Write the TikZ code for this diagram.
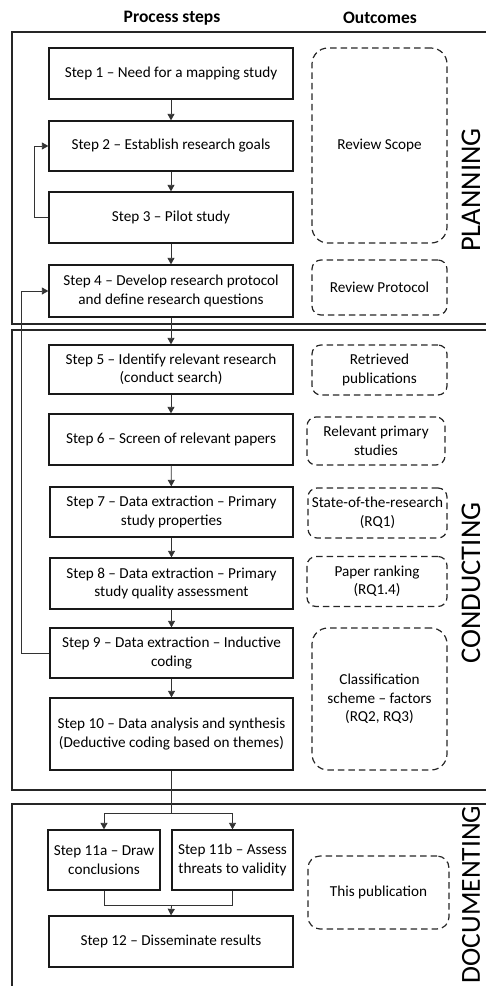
\documentclass[tikz,border=0pt]{standalone}
\usepackage{fontspec}
\setmainfont{Carlito}
\usetikzlibrary{arrows.meta}
\begin{document}
\begin{tikzpicture}[x=1pt,y=-1pt,
  frame/.style={draw=black!85, line width=1.4pt},
  stepbox/.style={draw=black!90, line width=1.3pt, align=center, inner sep=1pt,
    font=\fontsize{15.2}{18.5}\selectfont},
  outbox/.style={draw=black!85, line width=1.2pt, dash pattern=on 6.5pt off 4pt,
    rounded corners=9pt, align=center, inner sep=0pt,
    font=\fontsize{15.2}{18.5}\selectfont},
  conn/.style={draw=black!80, line width=0.8pt},
  arr/.style={conn, -{Triangle[length=6.5pt,width=7pt]}},
  phase/.style={rotate=90, inner sep=0pt, font=\fontsize{28.5}{32}\selectfont},
  head/.style={font=\bfseries\fontsize{17.5}{20}\selectfont}]

\useasboundingbox (0,0) rectangle (486,986);

% column headings
\node[head] (hproc) at (172,18) {Process steps};
\node[head] (hout) at (380,18) {Outcomes};

% phase frames (open to the right and below)
\draw[frame] (486,32) -- (12,32) -- (12,324) -- (486,324);
\draw[frame] (486,330) -- (12,330) -- (12,790) -- (486,790);
\draw[frame] (486,804) -- (12,804) -- (12,986);

\node[phase] (lplan) at (471,190) {PLANNING};
\node[phase] (lcond) at (471,583) {CONDUCTING};
\node[phase, font=\fontsize{27.5}{31}\selectfont] (ldoc) at (471,894.5) {DOCUMENTING};

% process steps
\node[stepbox, minimum width=244pt, minimum height=51pt] (s1) at (171,73.5) {Step 1 -- Need for a mapping study};
\node[stepbox, minimum width=244pt, minimum height=50pt] (s2) at (171,146) {Step 2 -- Establish research goals};
\node[stepbox, minimum width=244pt, minimum height=51pt] (s3) at (171,217.5) {Step 3 -- Pilot study};
\node[stepbox, minimum width=244pt, minimum height=52pt] (s4) at (171,291) {Step 4 -- Develop research protocol\\and define research questions};
\node[stepbox, minimum width=244pt, minimum height=49pt] (s5) at (171,369.5) {Step 5 -- Identify relevant research\\(conduct search)};
\node[stepbox, minimum width=244pt, minimum height=51pt] (s6) at (171,439.5) {Step 6 -- Screen of relevant papers};
\node[stepbox, minimum width=243pt, minimum height=50pt] (s7) at (171.5,512) {Step 7 -- Data extraction -- Primary\\study properties};
\node[stepbox, minimum width=243pt, minimum height=51pt] (s8) at (171.5,583.5) {Step 8 -- Data extraction -- Primary\\study quality assessment};
\node[stepbox, minimum width=243pt, minimum height=50pt] (s9) at (171.5,653) {Step 9 -- Data extraction -- Inductive\\coding};
\node[stepbox, minimum width=243pt, minimum height=72pt] (s10) at (171.5,734) {Step 10 -- Data analysis and synthesis\\(Deductive coding based on themes)};
\node[stepbox, minimum width=112pt, minimum height=60pt] (s11a) at (104,860) {Step 11a -- Draw\\conclusions};
\node[stepbox, minimum width=121pt, minimum height=60pt] (s11b) at (232.5,860) {Step 11b -- Assess\\threats to validity};
\node[stepbox, minimum width=244pt, minimum height=51pt] (s12) at (171,941.5) {Step 12 -- Disseminate results};

% outcomes
\node[outbox, rounded corners=16pt, minimum width=135pt, minimum height=195pt] (o1) at (379.5,145.5) {Review Scope};
\node[outbox, minimum width=135pt, minimum height=55pt] (o2) at (379.5,287.5) {Review Protocol};
\node[outbox, minimum width=135pt, minimum height=50pt] (o3) at (379.5,370) {Retrieved\\publications};
\node[outbox, minimum width=138pt, minimum height=48pt] (o4) at (376,441) {Relevant primary\\studies};
\node[outbox, minimum width=139pt, minimum height=50pt] (o5) at (377.5,513) {State-of-the-research\\(RQ1)};
\node[outbox, minimum width=140pt, minimum height=50pt] (o6) at (377,581.5) {Paper ranking\\(RQ1.4)};
\node[outbox, rounded corners=16pt, minimum width=135pt, minimum height=142pt] (o7) at (379.5,699) {Classification\\scheme -- factors\\(RQ2, RQ3)};
\node[outbox, rounded corners=12pt, minimum width=141pt, minimum height=73pt] (o8) at (378.5,892.5) {This publication};

% sequential flow
\draw[arr] (s1) -- (s2);
\draw[arr] (s2) -- (s3);
\draw[arr] (s3) -- (s4);
\draw[arr] (s4) -- (s5);
\draw[arr] (s5) -- (s6);
\draw[arr] (s6) -- (s7);
\draw[arr] (s7) -- (s8);
\draw[arr] (s8) -- (s9);
\draw[arr] (s9) -- (s10);

% feedback loops
\draw[arr] (s3.west) -- ++(-14,0) |- (s2.west);
\draw[arr] (s9.west) -- ++(-28,0) |- (s4.west);

% split towards steps 11a and 11b
\coordinate (split) at (171.5,813);
\draw[conn] (s10.south) -- (split);
\draw[arr] (split) -| (s11a.north);
\draw[arr] (split) -| (s11b.north);

% merge into step 12
\coordinate (merge) at (171.5,905);
\draw[conn] (s11a.south) |- (merge);
\draw[conn] (s11b.south) |- (merge);
\draw[arr] (merge) -- (s12.north);

\end{tikzpicture}
\end{document}
